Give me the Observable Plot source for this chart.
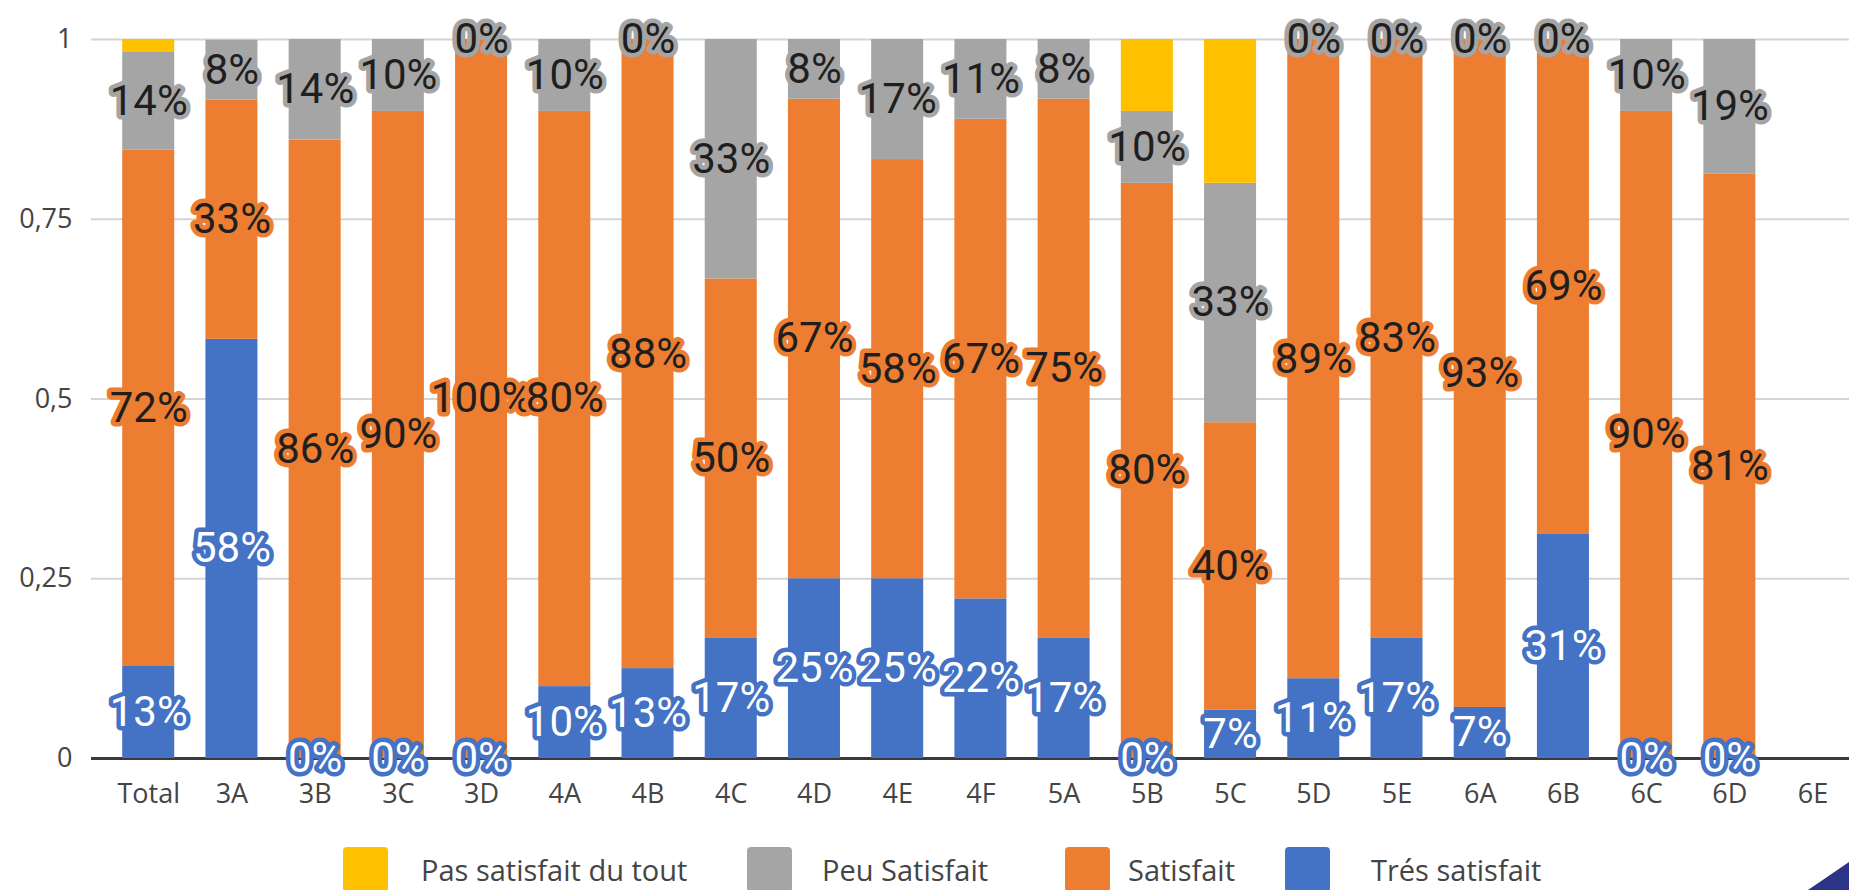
<!DOCTYPE html>
<html><head><meta charset="utf-8">
<script src="https://cdn.jsdelivr.net/npm/d3@7"></script>
<script src="https://cdn.jsdelivr.net/npm/@observablehq/plot@0.6"></script>
<style>
html,body{margin:0;padding:0;background:#fff;overflow:hidden;width:1849px;height:890px}
#chart{position:absolute;left:0;top:0}
#legend{position:absolute;left:0;top:847px;width:1849px;height:45px;font-family:"Open Sans",sans-serif;font-size:29px;color:#444}
.sw{position:absolute;top:0;width:45px;height:45px;border-radius:4px}
.lt{position:absolute;top:0;height:45px;line-height:45px;white-space:nowrap}
#corner{position:absolute;right:0;bottom:0;width:41px;height:28px;background:#2b3486;clip-path:polygon(100% 0,100% 100%,0 100%)}
</style></head><body>
<div id="chart"></div><div id="legend"></div><div id="corner"></div>
<script>
const categories = ["Total","3A","3B","3C","3D","4A","4B","4C","4D","4E","4F","5A","5B","5C","5D","5E","6A","6B","6C","6D","6E"];
const seriesNames = ["Trés satisfait","Satisfait","Peu Satisfait","Pas satisfait du tout"];
const seriesColors = ["#4472C4","#ED7D31","#A5A5A5","#FFC000"];
const labelTextColors = ["#ffffff","#1f1f1f","#1f1f1f",null];
const legendOrder = ["Pas satisfait du tout","Peu Satisfait","Satisfait","Trés satisfait"];

const tresSatisfait = [0.128,0.583,0,0,0,0.10,0.125,0.167,0.25,0.25,0.222,0.167,0,0.067,0.111,0.167,0.071,0.3125,0,0,null];
const satisfait     = [0.718,0.333,0.86,0.90,1.0,0.80,0.875,0.50,0.667,0.583,0.667,0.75,0.80,0.40,0.889,0.833,0.929,0.6875,0.90,0.8125,null];
const peuSatisfait  = [0.136,0.083,0.14,0.10,0,0.10,0,0.333,0.083,0.167,0.111,0.083,0.10,0.333,0,0,0,0,0.10,0.1875,null];
const pasSatisfait  = [0.018,0,0,0,0,0,0,0,0,0,0,0,0.10,0.20,0,0,0,0,0,0,null];

const yTicks = [0,0.25,0.5,0.75,1];
const yTickLabels = ["0","0,25","0,5","0,75","1"];

const seriesValues = [tresSatisfait, satisfait, peuSatisfait, pasSatisfait];
const rows = [];
categories.forEach((c,i) => seriesNames.forEach((s,j) => {
  const v = seriesValues[j][i];
  if (v != null) rows.push({cat: c, series: s, value: v});
}));
const fmt = v => Math.round(v * 100) + "%";

const labelMarks = seriesNames.map((s, j) => labelTextColors[j] == null ? null :
  Plot.text(rows, Plot.stackY({
    x: "cat", y: "value", z: "series", order: seriesNames,
    text: d => d.series === s ? fmt(d.value) : null,
    fill: labelTextColors[j], stroke: seriesColors[j], strokeWidth: 9,
    strokeLinejoin: "round", paintOrder: "stroke",
    fontSize: 42, fontFamily: "Roboto", lineAnchor: "middle"
  }))
).filter(Boolean);

const chart = Plot.plot({
  width: 1849, height: 830,
  marginLeft: 91, marginRight: 0, marginTop: 39, marginBottom: 72,
  style: {fontFamily: "'Open Sans', sans-serif", fontSize: "27px", color: "#444", background: "#fff"},
  x: {type: "band", domain: categories, paddingInner: 0.375, paddingOuter: 0.25, align: 0.75, round: false, label: null, tickSize: 0, tickPadding: 25},
  y: {domain: [0, 1], label: null, ticks: yTicks, tickSize: 0, tickPadding: 19,
      tickFormat: d => yTickLabels[yTicks.indexOf(d)]},
  color: {domain: seriesNames, range: seriesColors},
  marks: [
    Plot.gridY(yTicks, {stroke: "#d4d4d4", strokeOpacity: 1, strokeWidth: 2}),
    Plot.ruleY([0], {stroke: "#3a3a3a", strokeWidth: 3}),
    Plot.barY(rows, Plot.stackY({x: "cat", y: "value", fill: "series", order: seriesNames})),
    ...labelMarks
  ]
});
document.getElementById("chart").appendChild(chart);

// legend layout (pixel offsets of swatch and label for each entry)
const legendSwatchLeft = [343, 747, 1065, 1285];
const legendTextLeft = [421, 822, 1128, 1371];
const legend = document.getElementById("legend");
legendOrder.forEach((name, k) => {
  const sw = document.createElement("div");
  sw.className = "sw";
  sw.style.left = legendSwatchLeft[k] + "px";
  sw.style.background = seriesColors[seriesNames.indexOf(name)];
  const t = document.createElement("div");
  t.className = "lt";
  t.style.left = legendTextLeft[k] + "px";
  t.textContent = name;
  legend.appendChild(sw); legend.appendChild(t);
});
</script>
</body></html>
